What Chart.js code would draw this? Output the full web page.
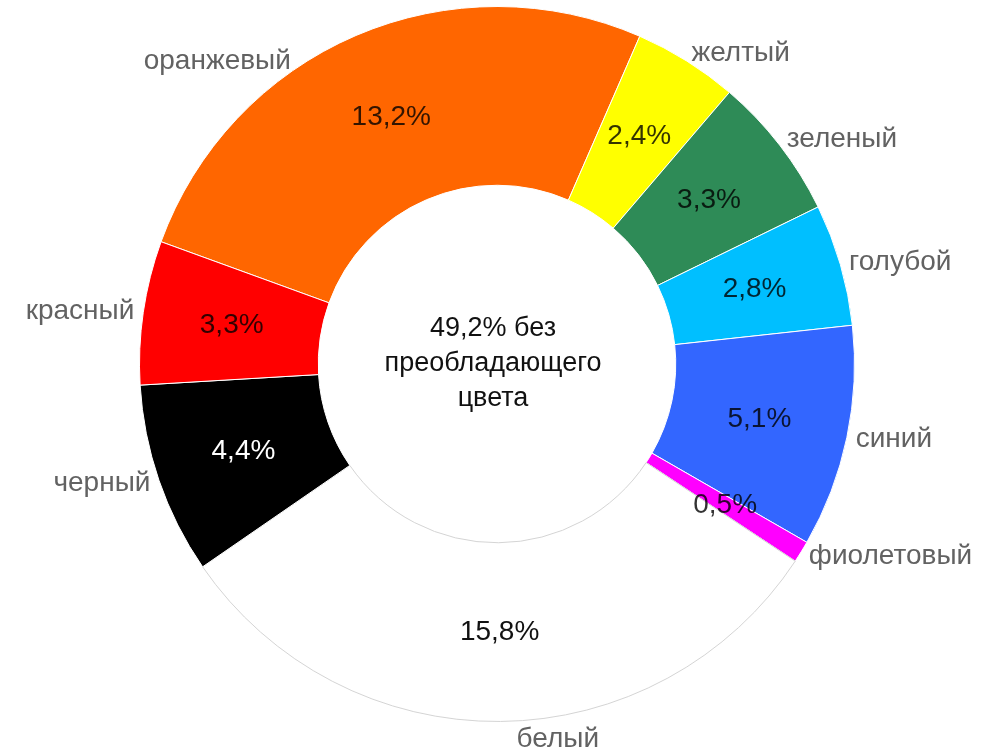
<!DOCTYPE html>
<html>
<head>
<meta charset="utf-8">
<script src="https://cdn.jsdelivr.net/npm/chart.js@4/dist/chart.umd.min.js"></script>
<style>
  html, body { margin: 0; padding: 0; background: #fff; }
  #wrap { width: 985px; height: 747px; position: relative; }
</style>
</head>
<body>
<div id="wrap"><canvas id="colorChart"></canvas></div>
<script>
// Названия цветов (по часовой стрелке, начиная с оранжевого)
const colorNames = ['оранжевый', 'желтый', 'зеленый', 'голубой', 'синий', 'фиолетовый', 'белый', 'черный', 'красный'];
// Доли, %
const shares = [13.2, 2.4, 3.3, 2.8, 5.1, 0.5, 15.8, 4.4, 3.3];
// Доля без преобладающего цвета, %
const noColorShare = 49.2;
const centerLines = [noColorShare.toFixed(1).replace('.', ',') + '% без', 'преобладающего', 'цвета'];

const sliceColors = ['#ff6600', '#ffff00', '#2e8b57', '#00bfff', '#3366ff', '#ff00ff', '#ffffff', '#000000', '#ff0000'];
const sliceBorders = sliceColors.map(c => c === '#ffffff' ? '#d4d4d4' : '#ffffff');

const fontFamily = '"Liberation Sans", Arial, sans-serif';

// небольшие сдвиги подписей (в градусах), чтобы не упирались в край
const labelShift = { 'оранжевый': -11, 'белый': -9 };

function fmt(v) {
    return v.toFixed(1).replace('.', ',') + '%';
}

// цвет процента внутри сегмента
function valueColor(bg) {
    if (bg === '#000000') return '#ffffff';
    if (bg === '#ffffff') return '#111111';
    return 'rgba(0, 0, 0, 0.8)';
}

// Подписи на сегментах, снаружи и в центре
const labelsPlugin = {
    id: 'sliceLabels',
    afterDatasetsDraw(chart) {
        const ctx = chart.ctx;
        const meta = chart.getDatasetMeta(0);
        ctx.save();
        ctx.font = '28px ' + fontFamily;

        meta.data.forEach((arc, i) => {
            const p = arc.getProps(['x', 'y', 'startAngle', 'endAngle', 'innerRadius', 'outerRadius'], true);
            const mid = (p.startAngle + p.endAngle) / 2;

            // процент внутри сегмента
            const pos = arc.tooltipPosition(true);
            ctx.textAlign = 'center';
            ctx.textBaseline = 'middle';
            ctx.fillStyle = valueColor(sliceColors[i]);
            ctx.fillText(fmt(shares[i]), pos.x, pos.y);

            // название цвета снаружи
            const ang = mid + (labelShift[colorNames[i]] || 0) * Math.PI / 180;
            const r = p.outerRadius + 9;
            const cx = Math.cos(ang), sy = Math.sin(ang);
            ctx.textAlign = cx > 0.25 ? 'left' : (cx < -0.25 ? 'right' : 'center');
            ctx.textBaseline = sy > 0.9 ? 'top' : (sy < -0.9 ? 'bottom' : 'middle');
            ctx.fillStyle = '#626262';
            ctx.fillText(colorNames[i], p.x + cx * r, p.y + sy * r);
        });

        // текст в центре
        const c = meta.data[0].getProps(['x', 'y'], true);
        ctx.font = '27px ' + fontFamily;
        ctx.fillStyle = '#111111';
        ctx.textAlign = 'center';
        ctx.textBaseline = 'middle';
        const lh = 35;
        centerLines.forEach((line, k) => {
            ctx.fillText(line, c.x - 4, c.y + (k - (centerLines.length - 1) / 2) * lh);
        });
        ctx.restore();
    }
};

const colorChart = new Chart(document.getElementById('colorChart'), {
    type: 'doughnut',
    data: {
        labels: colorNames,
        datasets: [{
            data: shares,
            backgroundColor: sliceColors,
            borderColor: sliceBorders,
            borderWidth: 1
        }]
    },
    options: {
        responsive: true,
        maintainAspectRatio: false,
        animation: false,
        rotation: -70,
        cutout: '50%',
        layout: {
            padding: { top: 6, bottom: 25, left: 9, right: 0 }
        },
        plugins: {
            legend: { display: false },
            tooltip: { enabled: false }
        }
    },
    plugins: [labelsPlugin]
});
</script>
</body>
</html>
